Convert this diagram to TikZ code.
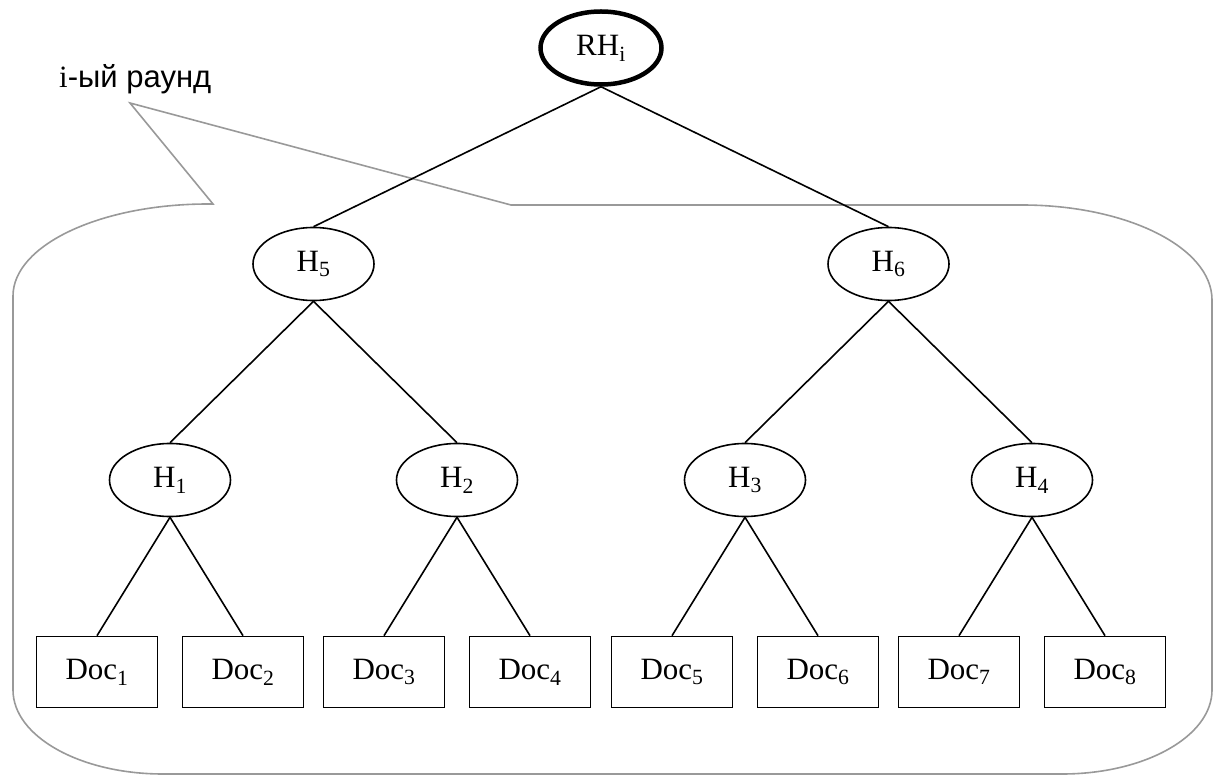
\documentclass[tikz,border=0pt]{standalone}
\usepackage{fontspec}
\setmainfont{Liberation Serif}
\newfontfamily\labelfont{Liberation Sans}
\usetikzlibrary{shapes.geometric}

\begin{document}
\begin{tikzpicture}[x=1pt, y=1pt,
    hashnode/.style={draw, ellipse, line width=1.6pt, inner sep=0pt,
      minimum width=121pt, minimum height=73pt, font=\fontsize{31}{37}\selectfont},
    roothash/.style={hashnode, line width=4.5pt},
    docbox/.style={draw, rectangle, line width=1.6pt, inner sep=0pt,
      minimum width=121pt, minimum height=71pt, font=\fontsize{31}{37}\selectfont},
    level 1/.style={sibling distance=575pt, level distance=216pt},
    level 2/.style={sibling distance=287pt, level distance=216pt},
    level 3/.style={sibling distance=146pt, level distance=192pt}]
  \useasboundingbox (0,0) rectangle (1220,-775);

  \draw[black!40, line width=1.6pt]
    (208,-204) -- (213,-204) -- (130,-103) -- (511,-205) -- (1022,-205)
    arc[start angle=90, end angle=0, x radius=190pt, y radius=95pt]
    -- (1212,-690)
    arc[start angle=0, end angle=-90, x radius=150pt, y radius=84pt]
    -- (163,-774)
    arc[start angle=270, end angle=180, x radius=150pt, y radius=84pt]
    -- (13,-296)
    arc[start angle=180, end angle=90, x radius=195pt, y radius=92pt];

  \node[anchor=base west, inner sep=0pt, font=\fontsize{31}{37}\selectfont] (round) at (59,-88)
    {{\rmfamily i}\labelfont-ый раунд};

  \node[roothash] (rh) at (601,-48) {RH\textsubscript{i}}
    [edge from parent/.style={draw, line width=1.6pt},
     edge from parent path={(\tikzparentnode.south) -- (\tikzchildnode.north)}]
    child
    {
      node[hashnode] (h5) {H\textsubscript{5}}
      child
      {
        node[hashnode] (h1) {H\textsubscript{1}}
        child { node[docbox] (doc1) {Doc\textsubscript{1}} }
        child { node[docbox] (doc2) {Doc\textsubscript{2}} }
      }
      child
      {
        node[hashnode] (h2) {H\textsubscript{2}}
        child { node[docbox] (doc3) {Doc\textsubscript{3}} }
        child { node[docbox] (doc4) {Doc\textsubscript{4}} }
      }
    }
    child
    {
      node[hashnode] (h6) {H\textsubscript{6}}
      child
      {
        node[hashnode] (h3) {H\textsubscript{3}}
        child { node[docbox] (doc5) {Doc\textsubscript{5}} }
        child { node[docbox] (doc6) {Doc\textsubscript{6}} }
      }
      child
      {
        node[hashnode] (h4) {H\textsubscript{4}}
        child { node[docbox] (doc7) {Doc\textsubscript{7}} }
        child { node[docbox] (doc8) {Doc\textsubscript{8}} }
      }
    }
  ;
\end{tikzpicture}
\end{document}
